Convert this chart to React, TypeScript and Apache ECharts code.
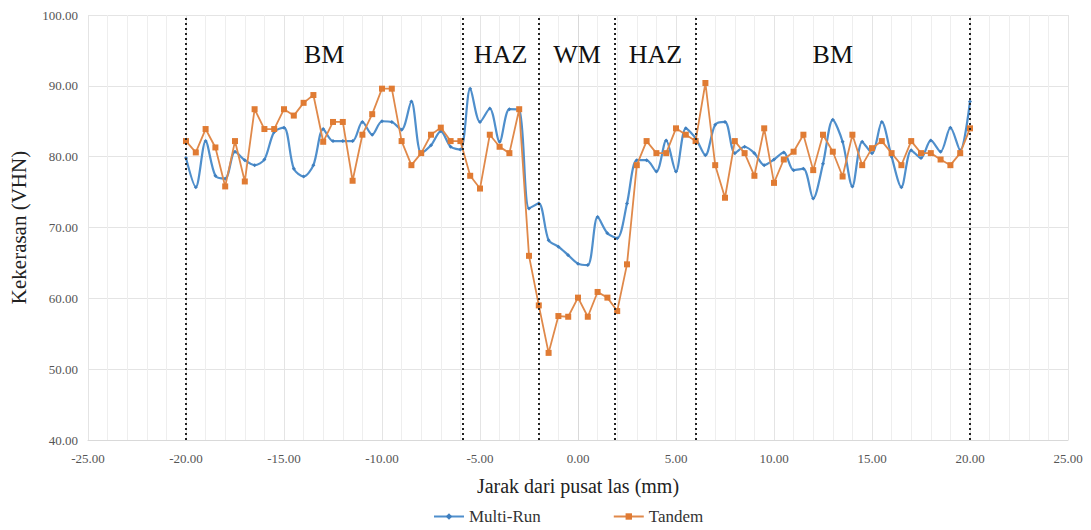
import React, { useEffect, useRef } from "react";
import * as echarts from "echarts";

const positions = [
  -20, -19.5, -19, -18.5, -18, -17.5, -17, -16.5, -16, -15.5, -15, -14.5, -14, -13.5, -13, -12.5, -12, -11.5, -11, -10.5,
  -10, -9.5, -9, -8.5, -8, -7.5, -7, -6.5, -6, -5.5, -5, -4.5, -4, -3.5, -3, -2.5, -2, -1.5, -1, -0.5,
  0, 0.5, 1, 1.5, 2, 2.5, 3, 3.5, 4, 4.5, 5, 5.5, 6, 6.5, 7, 7.5, 8, 8.5, 9, 9.5,
  10, 10.5, 11, 11.5, 12, 12.5, 13, 13.5, 14, 14.5, 15, 15.5, 16, 16.5, 17, 17.5, 18, 18.5, 19, 19.5, 20,
];

const multiRun = [
  79.8, 75.7, 82.2, 77.3, 76.9, 80.7, 79.5, 78.8, 79.6, 83.5, 84.1, 78.3, 77.2, 78.8, 83.9, 82.2, 82.2, 82.2, 84.9, 83.1,
  85.0, 84.9, 83.8, 87.8, 80.5, 81.6, 83.6, 81.4, 81.0, 89.6, 84.9, 86.8, 82.1, 86.7, 86.6, 72.7, 73.4, 68.2, 67.3, 66.1,
  64.9, 64.7, 71.5, 69.2, 68.5, 73.4, 79.5, 79.5, 77.9, 82.3, 77.9, 84.0, 82.6, 80.2, 84.5, 84.9, 80.5, 81.4, 80.5, 78.8,
  79.6, 80.6, 78.1, 78.3, 74.1, 79.0, 85.2, 82.1, 75.8, 82.1, 80.5, 84.9, 80.0, 75.7, 80.9, 79.8, 82.3, 80.7, 84.1, 80.9, 87.8,
];

const tandem = [
  82.2, 80.6, 83.9, 81.3, 75.8, 82.2, 76.5, 86.7, 83.9, 83.9, 86.7, 85.8, 87.6, 88.7, 82.1, 84.9, 84.9, 76.6, 83.1, 86.0,
  89.6, 89.6, 82.2, 78.8, 80.5, 83.1, 84.1, 82.2, 82.2, 77.3, 75.5, 83.1, 81.4, 80.5, 86.7, 66.0, 59.0, 52.3, 57.5, 57.4,
  60.1, 57.4, 60.9, 60.1, 58.2, 64.8, 78.8, 82.2, 80.5, 80.5, 84.0, 83.1, 82.2, 90.4, 78.8, 74.2, 82.2, 80.5, 77.3, 84.0,
  76.3, 79.6, 80.7, 83.1, 78.1, 83.1, 80.7, 77.2, 83.1, 78.8, 81.2, 82.2, 80.5, 78.8, 82.2, 80.5, 80.5, 79.6, 78.8, 80.5, 84.0,
];

const zoneBounds = [-20, -5.9, -2, 1.9, 6, 20];
const zoneNames = ["BM", "HAZ", "WM", "HAZ", "BM"];

const serif = "Liberation Serif";

export default function App() {
  const ref = useRef<HTMLDivElement>(null);
  useEffect(() => {
    if (!ref.current) return;
    const chart = echarts.init(ref.current, undefined, { renderer: "svg" });
    const pairs = (vals: number[]) => positions.map((x, i) => [x, vals[i]]);
    chart.setOption({
      animation: false,
      backgroundColor: "#ffffff",
      textStyle: { fontFamily: serif },
      grid: { left: 88, right: 23, top: 15, bottom: 90 },
      xAxis: {
        type: "value",
        min: -25,
        max: 25,
        interval: 5,
        name: "Jarak dari pusat las (mm)",
        nameLocation: "middle",
        nameGap: 36,
        nameTextStyle: { fontFamily: serif, fontSize: 20, color: "#222" },
        axisLine: { show: true, lineStyle: { color: "#d9d9d9" } },
        axisTick: { show: false },
        minorTick: { show: false, splitNumber: 5 },
        minorSplitLine: { show: true, lineStyle: { color: "#eeeeee", width: 1 } },
        splitLine: { show: true, lineStyle: { color: "#e4e4e4" } },
        axisLabel: {
          formatter: (v: number) => v.toFixed(2),
          fontFamily: serif,
          fontSize: 13,
          color: "#555",
          margin: 12,
        },
      },
      yAxis: {
        type: "value",
        min: 40,
        max: 100,
        interval: 10,
        name: "Kekerasan (VHN)",
        nameLocation: "middle",
        nameGap: 59,
        nameTextStyle: { fontFamily: serif, fontSize: 21, color: "#222" },
        axisLine: { show: true, lineStyle: { color: "#d9d9d9" } },
        axisTick: { show: false },
        splitLine: { show: true, lineStyle: { color: "#e4e4e4" } },
        axisLabel: {
          formatter: (v: number) => v.toFixed(2),
          fontFamily: serif,
          fontSize: 13,
          color: "#555",
          margin: 10,
        },
      },
      legend: {
        bottom: 0,
        left: 428,
        itemGap: 72,
        itemWidth: 30,
        itemHeight: 8,
        textStyle: { fontFamily: serif, fontSize: 17, color: "#333" },
        data: ["Multi-Run", "Tandem"],
      },
      series: [
        {
          name: "Multi-Run",
          type: "line",
          data: pairs(multiRun),
          smooth: 0.3,
          symbol: "diamond",
          symbolSize: 4,
          lineStyle: { color: "#4f8fcc", width: 2.2 },
          itemStyle: { color: "#3f7fbf" },
          z: 3,
          markLine: {
            silent: true,
            symbol: "none",
            label: { show: false },
            lineStyle: { color: "#222", type: [2, 3], width: 2 },
            data: zoneBounds.map((b) => ({ xAxis: b })),
          },
        },
        {
          name: "Tandem",
          type: "line",
          data: pairs(tandem),
          symbol: "rect",
          symbolSize: 6,
          lineStyle: { color: "#e0894a", width: 1.8 },
          itemStyle: { color: "#e07b33" },
          z: 4,
          markArea: {
            silent: true,
            itemStyle: { color: "rgba(0,0,0,0)" },
            label: {
              show: true,
              position: "insideTop",
              distance: 26,
              fontFamily: serif,
              fontSize: 26,
              color: "#111",
            },
            data: zoneNames.map((n, i) => [
              { xAxis: zoneBounds[i], name: n },
              { xAxis: zoneBounds[i + 1] },
            ]),
          },
        },
      ],
    });
    return () => chart.dispose();
  }, []);
  return (
    <div
      ref={ref}
      style={{ position: "fixed", left: 0, top: 0, width: 1091, height: 530 }}
    />
  );
}
